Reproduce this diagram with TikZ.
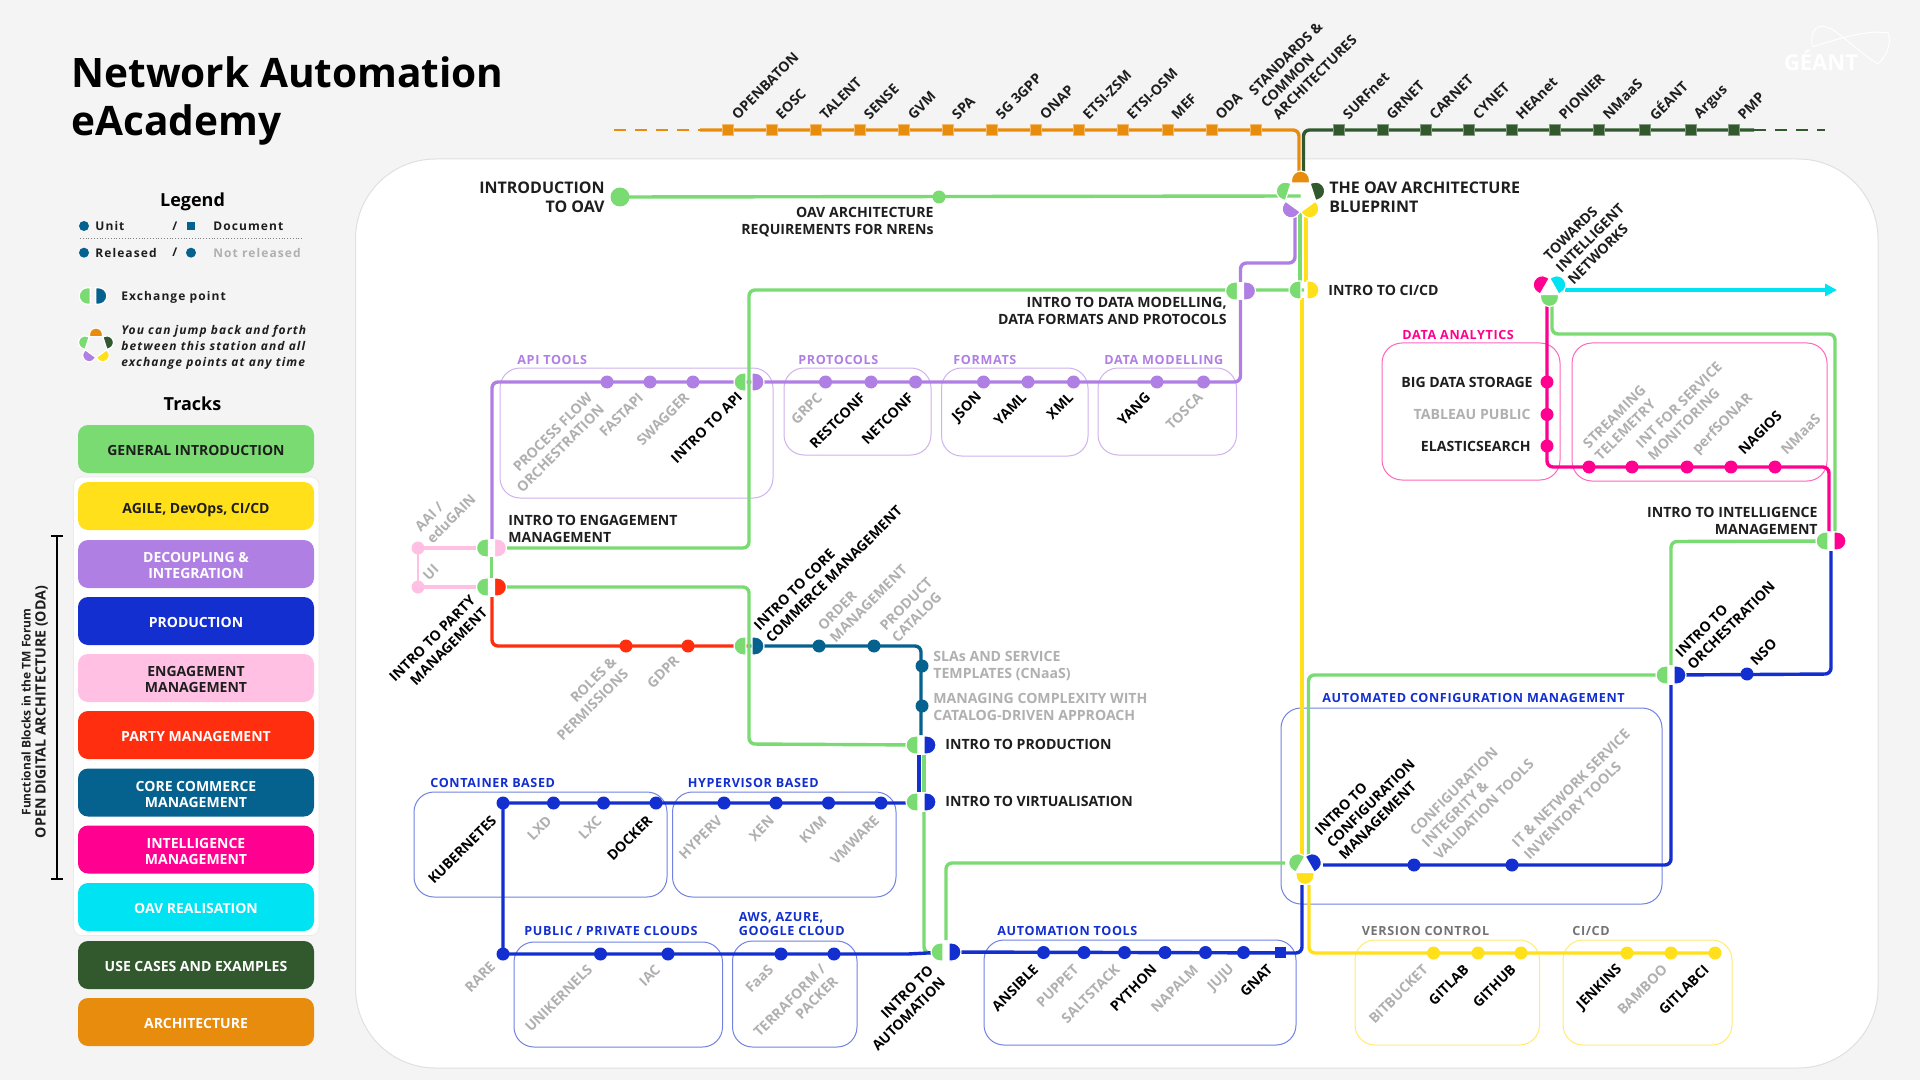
\documentclass[tikz,border=0pt]{standalone}
\usepackage{fontspec}
\setmainfont{Open Sans}
\newfontfamily\spaced[LetterSpace=5]{Open Sans}
\newfontfamily\legspaced[LetterSpace=9]{Open Sans}
\usetikzlibrary{backgrounds}
\usetikzlibrary{arrows.meta}
\definecolor{tgreen}{HTML}{7ADB72}
\definecolor{tyellow}{HTML}{FFE01B}
\definecolor{tpurple}{HTML}{B07FE3}
\definecolor{tblue}{HTML}{132FCF}
\definecolor{tpink}{HTML}{FFC0E3}
\definecolor{tred}{HTML}{FF2E0F}
\definecolor{tcore}{HTML}{05628F}
\definecolor{tmagenta}{HTML}{FF0090}
\definecolor{tcyan}{HTML}{00E3F2}
\definecolor{tdkgreen}{HTML}{32592E}
\definecolor{torange}{HTML}{E88C0E}
\definecolor{tink}{HTML}{1E1E1E}
\definecolor{tdim}{HTML}{B0B0B0}
\definecolor{pagebg}{HTML}{F4F4F4}
\newcommand{\lf}{\fontsize{7}{8.5}\selectfont\bfseries}
\tikzstyle{metro}   = [line width=1.7pt, rounded corners=3pt]
\tikzstyle{thinbox} = [line width=.5pt, rounded corners=10pt]
\tikzstyle{halo}    = [draw=white, line width=.6pt]
\tikzstyle{dotst}   = [circle, inner sep=0pt, minimum size=6.5pt, line width=.4pt]
\tikzstyle{squarest}= [rectangle, inner sep=0pt, minimum size=5.5pt, line width=.4pt]
\tikzstyle{uplab}   = [rotate=45, anchor=west, align=left, inner sep=0pt, font=\lf]
\tikzstyle{dnlab}   = [rotate=45, anchor=east, align=right, inner sep=0pt, font=\lf]
\tikzstyle{hlab}    = [inner sep=0pt, font=\fontsize{7.05}{8.5}\selectfont\bfseries, text=tink]
\tikzstyle{biglab}  = [inner sep=0pt, font=\fontsize{8}{9.7}\selectfont\bfseries, text=tink]
\tikzstyle{boxlab}  = [inner sep=0pt, anchor=west, align=left, font=\fontsize{6.3}{7}\selectfont\spaced\bfseries]
\tikzstyle{leglab}  = [inner sep=0pt, anchor=west, font=\fontsize{6}{8}\selectfont\legspaced\bfseries, text=tink]
\tikzstyle{trackbox}= [rectangle, rounded corners=5pt, minimum width=118pt, minimum height=24pt, inner sep=0pt, align=center, font=\fontsize{7}{8}\selectfont\bfseries]
\tikzstyle{head}    = [inner sep=0pt, font=\fontsize{9}{11}\selectfont\bfseries, text=black]
% half disc, flat side #4 away from (#1,#2), turned by #3
\newcommand{\dhalf}[5]{\filldraw[halo, fill=#5, shift={(#1,#2)}, rotate=#3]
  (-9,-#4) -- (-9,-3-#4) .. controls (-9,-8-#4) and (-5,-12-#4) .. (0,-12-#4)
  .. controls (5,-12-#4) and (9,-8-#4) .. (9,-3-#4) -- (9,-#4) -- cycle;}
\newcommand{\xchg}[5]{\coordinate (#1) at (#2,#3); \dhalf{#2}{#3}{90}{3}{#4} \dhalf{#2}{#3}{-90}{3}{#5}}
\newcommand{\xchgw}[5]{\fill[white] (#2-3,#3-9) rectangle (#2+3,#3+9); \xchg{#1}{#2}{#3}{#4}{#5}}
\newcommand{\hubfive}[3]{\coordinate (#1) at (#2,#3);
  \dhalf{#2}{#3}{0}{13}{torange} \dhalf{#2}{#3}{72}{13}{tgreen} \dhalf{#2}{#3}{-72}{13}{tdkgreen}
  \dhalf{#2}{#3}{144}{13}{tpurple} \dhalf{#2}{#3}{-144}{13}{tyellow}}
\begin{document}
\begin{tikzpicture}[x=0.5pt,y=-0.5pt]
  \useasboundingbox (0,0) rectangle (1920,1080);
  \begin{scope}[on background layer]
    \fill[pagebg] (0,0) rectangle (1920,1080);
    \filldraw[fill=white, draw=black!12, line width=.5pt, rounded corners=40pt] (355.5,159) rectangle (1878,1068);
    \filldraw[fill=white, draw=black!8, line width=.4pt, rounded corners=4pt] (73.5,477) rectangle (319,935.5);
    % purple boxes
    \draw[thinbox, tpurple!60] (500,368) rectangle (773,498);
    \draw[thinbox, tpurple!60] (784,368) rectangle (931,455);
    \draw[thinbox, tpurple!60] (941.5,368) rectangle (1088,456);
    \draw[thinbox, tpurple!60] (1098,368) rectangle (1236.5,455);
    % blue boxes
    \draw[thinbox, tblue!60] (414,792) rectangle (667,897);
    \draw[thinbox, tblue!60] (672.5,792) rectangle (896,897);
    \draw[thinbox, tblue!60] (514,942) rectangle (722.5,1047);
    \draw[thinbox, tblue!60] (732.5,941) rectangle (857,1047);
    \draw[thinbox, tblue!60] (984,940) rectangle (1296,1045);
    \draw[thinbox, tblue!60] (1281,708) rectangle (1662,904);
    % yellow boxes
    \draw[thinbox, tyellow!60] (1355,940) rectangle (1539.5,1045);
    \draw[thinbox, tyellow!60] (1563,940) rectangle (1732,1045);
    % magenta boxes
    \draw[thinbox, tmagenta!60] (1382,343) rectangle (1560,480);
    \draw[thinbox, tmagenta!60] (1572,343) rectangle (1827,481);
  \end{scope}

  % left column
  \node[inner sep=0pt, anchor=west, align=left, text=black, font=\fontsize{20.3}{24}\selectfont\bfseries] (title) at (71,101) {Network Automation\\eAcademy};
  \node[head] (legendhead) at (192.5,202) {Legend};
  \node[dotst, minimum size=5pt, fill=tcore] (lg1) at (84,226) {};
  \node[leglab] (lgt1) at (95,226) {Unit};
  \node[leglab] (lgs1) at (172,226) {/};
  \node[squarest, minimum size=4.4pt, fill=tcore] (lg2) at (191,226) {};
  \node[leglab] (lgt2) at (213,226) {Document};
  \draw[densely dotted, black!50, line width=.4pt] (80,238.7) -- (303,238.7);
  \node[dotst, minimum size=5pt, fill=tcore] (lg3) at (84,252.7) {};
  \node[leglab] (lgt3) at (95,252.7) {Released};
  \node[leglab] (lgs2) at (172,252.7) {/};
  \node[dotst, minimum size=5pt, fill=tcore] (lg4) at (191,252.7) {};
  \node[leglab, text=tdim] (lgt4) at (213,252.7) {Not released};
  \begin{scope}[shift={(93,296)}, scale=.92]
    \xchg{lgx}{0}{0}{tgreen}{tcore}
  \end{scope}
  \node[leglab] (lgt5) at (121,297) {Exchange point};
  \begin{scope}[shift={(96,346)}, scale=.72]
    \hubfive{lgh}{0}{0}
  \end{scope}
  \node[leglab, align=left, font=\fontsize{6}{8}\selectfont\legspaced\bfseries\itshape] (lgt6) at (121,347) {You can jump back and forth\\between this station and all\\exchange points at any time};
  \node[head] (trackhead) at (192.5,404) {Tracks};
  \foreach \y/\c/\tc/\t [count=\i] in {449/tgreen/tink/{GENERAL INTRODUCTION}, 506/tyellow/tink/{\smash{AGILE, DevOps, CI/CD}},
    564/tpurple/white/{DECOUPLING \&\\INTEGRATION}, 621/tblue/white/{PRODUCTION}, 678/tpink/tink/{ENGAGEMENT\\MANAGEMENT},
    735/tred/white/{PARTY MANAGEMENT}, 792.5/tcore/white/{CORE COMMERCE\\MANAGEMENT}, 849.5/tmagenta/white/{INTELLIGENCE\\MANAGEMENT},
    907/tcyan/white/{OAV REALISATION}, 965/tdkgreen/white/{USE CASES AND EXAMPLES}, 1022/torange/white/{ARCHITECTURE}}
    \node[trackbox, fill=\c, text=\tc] (track\i) at (196,\y) {\rule{0pt}{7pt}\t};
  \draw[line width=.6pt, black] (51,536) -- (63,536) (57,536) -- (57,879) (51,879) -- (63,879);
  \node[rotate=90, inner sep=0pt, text=tink, font=\fontsize{6}{7}\selectfont\bfseries] (odasub) at (26,712) {Functional Blocks in the TM Forum};
  \node[rotate=90, inner sep=0pt, text=tink, font=\fontsize{7.1}{8}\selectfont\bfseries] (odamain) at (41.5,712) {OPEN DIGITAL ARCHITECTURE (ODA)};

  % logo
  \node[inner sep=0pt, text=white, font=\fontsize{11}{12}\selectfont\bfseries] (geant) at (1821,60) {GÉANT};
  \draw[white, line width=.5pt] (1812,45) .. controls (1810,25) and (1822,20) .. (1840,35)
     .. controls (1855,47) and (1868,58) .. (1878,64) .. controls (1888,55) and (1892,40) .. (1888,33)
     .. controls (1870,30) and (1850,35) .. (1812,47);

  % orange line
  \foreach \x/\t [count=\i] in {728/OPENBATON,772/EOSC,816/TALENT,860/SENSE,904/GVM,948/SPA,992/5G 3GPP,1036/ONAP,1079/ETSI-ZSM,1123/ETSI-OSM,1167.5/MEF,1211.5/ODA} {
    \node[squarest, fill=torange, draw=torange!60] (or\i) at (\x,130) {};
    \node[uplab, text=tink] (orl\i) at (\x+6,117) {\t};
  }
  \node[squarest, fill=torange, draw=torange!60] (or13) at (1256,130) {};
  \node[uplab, text=tink] (orl13) at (1263,105) {STANDARDS \&\\COMMON\\ARCHITECTURES};
  % dark green line
  \foreach \x/\t [count=\i] in {1339/SURFnet,1382.5/GRNET,1425.5/CARNET,1469/CYNET,1512/HEAnet,1555/PIONIER,1599/NMaaS,1645/GÉANT,1691/Argus,1734/PMP} {
    \node[squarest, fill=tdkgreen, draw=tdkgreen!60] (dg\i) at (\x,130) {};
    \node[uplab, text=tink] (dgl\i) at (\x+6,117) {\t};
  }
  % general introduction
  \node[dotst, minimum size=9.5pt, fill=tgreen] (ist) at (620,197) {};
  \node[dotst, fill=tgreen] (mid) at (939,197) {};
  \node[biglab, anchor=east, align=right] (istl) at (605,197) {INTRODUCTION\\TO OAV};
  \node[hlab, anchor=east, align=right] (midl) at (934,222.5) {OAV ARCHITECTURE\\REQUIREMENTS FOR NRENs};
  \hubfive{hub}{1300.5}{196}
  \node[biglab, anchor=west, align=left] (hubl) at (1329,197) {THE OAV ARCHITECTURE\\BLUEPRINT};
  \xchgw{dmx}{1240.5}{291}{tgreen}{tpurple}
  \node[hlab, anchor=east, align=right] (dmxl) at (1227,311) {INTRO TO DATA MODELLING,\\DATA FORMATS AND PROTOCOLS};
  \xchg{cix}{1304}{290}{tgreen}{tyellow}
  \node[hlab, anchor=west] (cixl) at (1328,290) {INTRO TO CI/CD};
  % purple line
  \foreach \x/\lx/\c/\t [count=\i] in {650/641/tdim/FASTAPI,693/687/tdim/SWAGGER,825.5/820/tdim/GRPC,871/863/black/RESTCONF,915.5/911/black/NETCONF,983.5/980/black/JSON,1028/1024/black/YAML,1073.5/1071/black/XML,1157/1148/black/YANG,1203.5/1200.5/tdim/TOSCA} {
    \node[dotst, fill=tpurple] (pu\i) at (\x,382) {};
    \node[dnlab, text=\c] (pul\i) at (\lx,395) {\t};
  }
  \node[dotst, fill=tpurple] (pu0) at (607,382) {};
  \node[dnlab, text=tdim] (pul0) at (596,401) {PROCESS FLOW\\ORCHESTRATION};
  \xchg{apx}{749}{382}{tgreen}{tpurple}
  \node[dnlab, text=black] (apxl) at (740,394) {INTRO TO API};
  % engagement and party
  \xchgw{enx}{491.5}{548}{tgreen}{tpink}
  \xchgw{pax}{491.5}{587}{tgreen}{tred}
  \node[hlab, anchor=west, align=left] (enxl) at (508,528.5) {INTRO TO ENGAGEMENT\\MANAGEMENT};
  \node[dnlab, text=black] (paxl) at (479,604) {INTRO TO PARTY\\MANAGEMENT};
  \node[dotst, fill=tpink] (aai) at (418,548) {};
  \node[dotst, fill=tpink] (ui) at (418,587) {};
  \node[uplab, text=tdim] (aail) at (423,535) {AAI /\\eduGAIN};
  \node[uplab, text=tdim] (uil) at (425,578) {UI};
  \foreach \x/\lx/\ly/\t [count=\i] in {626/620/665/{ROLES \&\\PERMISSIONS},688/677/658/GDPR} {
    \node[dotst, fill=tred] (re\i) at (\x,646) {};
    \node[dnlab, text=tdim] (rel\i) at (\lx,\ly) {\t};
  }
  % core commerce
  \xchg{cox}{749}{646}{tgreen}{tcore}
  \node[uplab, text=black] (coxl) at (762,634) {INTRO TO CORE\\COMMERCE MANAGEMENT};
  \foreach \x/\lx/\t [count=\i] in {819/826/{ORDER\\MANAGEMENT},874/888/{PRODUCT\\CATALOG}} {
    \node[dotst, fill=tcore] (co\i) at (\x,646) {};
    \node[uplab, text=tdim] (col\i) at (\lx,634) {\t};
  }
  \node[dotst, fill=tcore] (co3) at (922,666) {};
  \node[dotst, fill=tcore] (co4) at (922,706) {};
  \node[hlab, anchor=west, align=left, text=tdim] (col3) at (933,666) {SLAs AND SERVICE\\TEMPLATES (CNaaS)};
  \node[hlab, anchor=west, align=left, text=tdim] (col4) at (933,707) {MANAGING COMPLEXITY WITH\\CATALOG-DRIVEN APPROACH};
  % production
  \xchgw{prx}{921}{745}{tgreen}{tblue}
  \xchgw{vix}{921}{802}{tgreen}{tblue}
  \node[hlab, anchor=west] (prxl) at (945,744) {INTRO TO PRODUCTION};
  \node[hlab, anchor=west] (vixl) at (945,801) {INTRO TO VIRTUALISATION};
  \foreach \x/\lx/\c/\t [count=\i] in {503/494/black/KUBERNETES,553.5/549.5/tdim/LXD,603.5/599.5/tdim/LXC,656/650/black/DOCKER,724/720/tdim/HYPERV,776/772/tdim/XEN,828.5/824.5/tdim/KVM,881/877/tdim/VMWARE} {
    \node[dotst, fill=tblue] (vi\i) at (\x,803) {};
    \node[dnlab, text=\c] (vil\i) at (\lx,818) {\t};
  }
  \foreach \x/\lx/\ly/\t [count=\i] in {503/493/964/RARE,600.5/590/967/UNIKERNELS,668/658/967/IAC,781/771/967/FaaS,834/829.5/973/{TERRAFORM /\\PACKER}} {
    \node[dotst, fill=tblue] (cl\i) at (\x,954) {};
    \node[dnlab, text=tdim] (cll\i) at (\lx,\ly) {\t};
  }
  \xchgw{aux}{946}{952}{tgreen}{tblue}
  \node[dnlab, text=black] (auxl) at (937,974) {INTRO TO\\AUTOMATION};
  \foreach \x/\lx/\c/\t [count=\i] in {1043.5/1036/black/ANSIBLE,1084/1076.5/tdim/PUPPET,1124.5/1117.5/tdim/SALTSTACK,1165/1154.5/black/PYTHON,1205.5/1196/tdim/NAPALM,1243.5/1232.5/tdim/JUJU} {
    \node[dotst, fill=tblue] (at\i) at (\x,952.5) {};
    \node[dnlab, text=\c] (atl\i) at (\lx,967) {\t};
  }
  \node[squarest, fill=tblue] (at7) at (1280,952.5) {};
  \node[dnlab, text=black] (atl7) at (1270,967) {GNAT};
  % configuration
  \coordinate (cfg) at (1305,867);
  \dhalf{1305}{867}{60}{5.5}{tgreen} \dhalf{1305}{867}{-60}{5.5}{tblue} \dhalf{1305}{867}{180}{5.5}{tyellow}
  \node[uplab, text=black] (cfgl) at (1329,845) {INTRO TO\\CONFIGURATION\\MANAGEMENT};
  \node[dotst, fill=tblue] (cf1) at (1414,865) {};
  \node[dotst, fill=tblue] (cf2) at (1512,865) {};
  \node[uplab, text=tdim] (cfl1) at (1424,845) {CONFIGURATION\\INTEGRITY \&\\VALIDATION TOOLS};
  \node[uplab, text=tdim] (cfl2) at (1520,851) {IT \& NETWORK SERVICE\\INVENTORY TOOLS};
  % yellow stations
  \foreach \x/\lx/\c/\t [count=\i] in {1433.5/1425.5/tdim/BITBUCKET,1478/1466.5/black/GITLAB,1521/1513.5/black/GITHUB,1627/1620/black/JENKINS,1671/1665/tdim/BAMBOO,1715/1706.5/black/GITLABCI} {
    \node[dotst, fill=tyellow] (ye\i) at (\x,953) {};
    \node[dnlab, text=\c] (yel\i) at (\lx,967) {\t};
  }
  % orchestration
  \xchgw{orx}{1671}{675}{tgreen}{tblue}
  \node[uplab, text=black] (orxl) at (1683.5,661) {INTRO TO\\ORCHESTRATION};
  \node[dotst, fill=tblue] (nso) at (1747,674) {};
  \node[uplab, text=black] (nsol) at (1752.5,663) {NSO};
  \xchgw{inx}{1831}{541}{tgreen}{tmagenta}
  \node[hlab, anchor=east, align=right] (inxl) at (1818,520.5) {INTRO TO INTELLIGENCE\\MANAGEMENT};
  % towards intelligent networks
  \coordinate (tw) at (1549.5,289);
  \dhalf{1549.5}{289}{60}{5.5}{tmagenta} \dhalf{1549.5}{289}{-60}{5.5}{tcyan} \dhalf{1549.5}{289}{180}{5.5}{tgreen}
  \node[uplab, text=tink] (twl) at (1558,270) {TOWARDS\\INTELLIGENT\\NETWORKS};
  \foreach \y/\c/\lx/\t [count=\i] in {382/tink/1533/BIG DATA STORAGE,414.5/tdim/1531/TABLEAU PUBLIC,446/tink/1531/ELASTICSEARCH} {
    \node[dotst, fill=tmagenta] (da\i) at (1547,\y) {};
    \node[hlab, anchor=east, text=\c] (dal\i) at (\lx,\y) {\t};
  }
  \foreach \x/\lx/\c/\t [count=\i] in {1589/1591/tdim/{STREAMING\\TELEMETRY},1632/1644/tdim/{INT FOR SERVICE\\MONITORING},1687/1695/tdim/perfSONAR,1731/1740.5/black/NAGIOS,1775/1783/tdim/NMaaS} {
    \node[dotst, fill=tmagenta] (mo\i) at (\x,467) {};
    \node[uplab, text=\c] (mol\i) at (\lx,452) {\t};
  }
  % box titles
  \node[boxlab, text=tpurple] (bt1) at (517,360) {API TOOLS};
  \node[boxlab, text=tpurple] (bt2) at (798,360) {PROTOCOLS};
  \node[boxlab, text=tpurple] (bt3) at (953,360) {FORMATS};
  \node[boxlab, text=tpurple] (bt4) at (1104,360) {DATA MODELLING};
  \node[boxlab, text=tblue] (bt5) at (430,783) {CONTAINER BASED};
  \node[boxlab, text=tblue] (bt6) at (687.5,783) {HYPERVISOR BASED};
  \node[boxlab, text=tblue] (bt7) at (524,931) {PUBLIC / PRIVATE CLOUDS};
  \node[boxlab, text=tblue] (bt8) at (738.5,924) {AWS, AZURE,\\GOOGLE CLOUD};
  \node[boxlab, text=tblue] (bt9) at (997,931) {AUTOMATION TOOLS};
  \node[boxlab, text=tblue] (bt10) at (1322,698) {AUTOMATED CONFIGURATION MANAGEMENT};
  \node[boxlab, text=black!55] (bt11) at (1361.5,931) {VERSION CONTROL};
  \node[boxlab, text=black!55] (bt12) at (1572,931) {CI/CD};
  \node[boxlab, text=tmagenta] (bt13) at (1402,335) {DATA ANALYTICS};

  % free ends of the lines
  \coordinate (ora) at (614,130);   \coordinate (orb) at (700,130);   \coordinate (orc) at (1299,172);
  \coordinate (dga) at (1303.5,172);\coordinate (dgb) at (1754,130);  \coordinate (dgc) at (1825,130);
  \coordinate (pua) at (1295,217);  \coordinate (pub) at (1295,263);  \coordinate (puc) at (1240.5,263);
  \coordinate (pud) at (1240.5,382);\coordinate (pue) at (492,382);   \coordinate (puf) at (492,538);
  \coordinate (gra) at (1300,212);  \coordinate (grb) at (1300,282);  \coordinate (grc) at (749,290);
  \coordinate (grd) at (749,548);   \coordinate (gre) at (749,587);   \coordinate (grf) at (749,744);
  \coordinate (yea) at (1306,217);  \coordinate (yeb) at (1306,282);  \coordinate (yec) at (1302,298);
  \coordinate (yed) at (1302,860);  \coordinate (yee) at (1309,885);  \coordinate (yef) at (1309,953);
  \coordinate (rea) at (492,597);   \coordinate (reb) at (492,646);
  \coordinate (bla) at (919,755);   \coordinate (blb) at (919,792);   \coordinate (blc) at (908,803);
  \coordinate (bld) at (908,954);   \coordinate (ble) at (1302,953);  \coordinate (blf) at (1302,885);
  \coordinate (blg) at (1323,865);  \coordinate (blh) at (1671,865);  \coordinate (bli) at (1671,685);
  \coordinate (blj) at (1831,674);  \coordinate (blk) at (1831,551);
  \coordinate (gna) at (924,755);   \coordinate (gnb) at (924,792);   \coordinate (gnc) at (924,812);
  \coordinate (gnd) at (924,953);   \coordinate (gne) at (946,940);   \coordinate (gnf) at (946,863);
  \coordinate (gng) at (1285,863);  \coordinate (gnh) at (1308.5,857);\coordinate (gni) at (1308.5,675);
  \coordinate (gnj) at (1671,665);  \coordinate (gnk) at (1671,541.5);\coordinate (gnl) at (1835,531);
  \coordinate (gnm) at (1835,334);  \coordinate (gnn) at (1552,334);  \coordinate (gno) at (1552,304);
  \coordinate (maa) at (1829,531);  \coordinate (mab) at (1829,467);  \coordinate (mac) at (1547,467);
  \coordinate (mad) at (1547,304);  \coordinate (cya) at (1565,290);  \coordinate (cyb) at (1837,290);

  \begin{scope}[on background layer]
    \draw[metro, torange, line width=1pt, dash pattern=on 6pt off 4.5pt] (ora) -- (orb);
    \draw[metro, torange] (orb) -- (or13.center) -| (orc);
    \draw[metro, tdkgreen] (dga) |- (dg1.center) -- (dgb);
    \draw[metro, tdkgreen, line width=1pt, dash pattern=on 6pt off 4.5pt] (dgb) -- (dgc);
    \draw[metro, tgreen] (ist.center) -- (hub);
    \draw[metro, tpurple] (pua) -- (pub) -- (puc) -- (pud) -- (pue) -- (puf);
    \draw[metro, tpurple] (enx) -- (puf);
    \draw[metro, tred] (rea) -- (reb) -- (cox);
    \draw[metro, tcore] (cox) -| ([yshift=5pt]prx);
    \draw[metro, tgreen] (gra) -- (grb);
    \draw[metro, tyellow] (yea) -- (yeb);
    \draw[metro, tgreen] (cix) -- (grc) -- (grd) -- (enx);
    \draw[metro, tgreen] (enx) -- (pax);
    \draw[metro, tgreen] (pax) -- (gre) -- (grf) -- (prx);
    \draw[metro, tblue] (bla) -- (blb);
    \draw[metro, tgreen] (gna) -- (gnb);
    \draw[metro, tblue] (blc) -- (vi1.center) -- (cl1.center) -- (bld);
    \draw[metro, tgreen] (gnc) -- (gnd) -- (aux);
    \draw[metro, tblue] (bld) -- (aux);
    \draw[metro, tblue] (aux) -- (ble) -- (blf);
    \draw[metro, tgreen] (gne) -- (gnf) -- (gng);
    \draw[metro, tyellow] (yec) -- (yed);
    \draw[metro, tyellow] (yee) -- (yef) -- (ye6.center);
    \draw[metro, tgreen] (gnh) -- (gni) -- (orx);
    \draw[metro, tblue] (blg) -- (blh) -- (bli);
    \draw[metro, tblue] (orx) -- (blj) -- (blk);
    \draw[metro, tgreen] (gnj) -- (gnk) -- (inx);
    \draw[metro, tgreen] (gnl) -- (gnm) -- (gnn) -- (gno);
    \draw[metro, tmagenta] (maa) -- (mab) -- (mac) -- (mad);
    \draw[metro, tcyan, -{Triangle[length=6pt, width=6pt]}] (cya) -- (cyb);
    \draw[metro, tpink] (aai.center) -- (enx);
    \draw[metro, tpink] (ui.center) -- (pax);
    \draw[tpink, line width=.8pt] (aai.center) -- (ui.center);
  \end{scope}
\end{tikzpicture}
\end{document}
